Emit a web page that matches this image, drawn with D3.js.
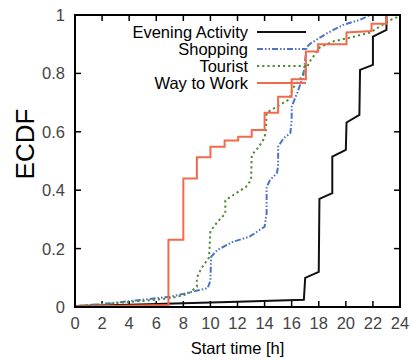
<!DOCTYPE html>
<html>
<head>
<meta charset="utf-8">
<script src="https://cdn.jsdelivr.net/npm/d3@7"></script>
<style>
  body { margin: 0; background: #fff; }
  svg { font-family: "Liberation Sans", Arial, sans-serif; }
  .frame { fill: none; stroke: #000; stroke-width: 2; }
  .tick { stroke: #000; stroke-width: 1.5; }
  .ticklabel { fill: #444; font-size: 16.5px; }
</style>
</head>
<body>
<svg id="chart"></svg>
<script>
// x ticks (hours) and y ticks (ECDF)
const xTicks = [0, 2, 4, 6, 8, 10, 12, 14, 16, 18, 20, 22, 24];
const yTicks = [0, 0.2, 0.4, 0.6, 0.8, 1];

const seriesNames = ["Evening Activity", "Shopping", "Tourist", "Way to Work"];

// [hour, ecdf]
const evening = [[0,0.003],[4,0.008],[8,0.013],[12,0.018],[16.9,0.025],[17.0,0.10],[18.0,0.12],[18.05,0.37],
  [19.0,0.39],[19.0,0.515],[20.0,0.538],[20.05,0.632],[21.0,0.658],[21.05,0.812],[22.0,0.829],[22.0,0.926],
  [23.0,0.949],[23.0,1.0],[24,1.0]];

const shopping = [[0,0.003],[2,0.01],[4,0.02],[6,0.03],[7,0.035],[8,0.045],[9.2,0.058],[9.8,0.065],[10.0,0.09],
  [10.05,0.172],[10.5,0.195],[11.7,0.224],[12.9,0.241],[14.0,0.275],[14.15,0.321],[14.15,0.41],[14.4,0.435],
  [14.9,0.458],[15.0,0.48],[15.0,0.549],[15.4,0.578],[15.9,0.595],[16.0,0.64],[16.0,0.686],[16.4,0.732],
  [16.85,0.789],[17.0,0.846],[17.1,0.89],[17.4,0.903],[18.6,0.937],[19.8,0.966],[21.0,0.983],[21.8,1.0],[24,1.0]];

const tourist = [[0,0.003],[2,0.01],[4,0.017],[6,0.025],[7,0.03],[8,0.04],[8.5,0.05],[9,0.07],[9,0.10],
  [9.3,0.13],[9.9,0.17],[10,0.26],[10.5,0.29],[11.1,0.32],[11.1,0.365],[11.9,0.39],[12.6,0.41],[13.0,0.435],
  [13.05,0.52],[13.6,0.55],[14.0,0.58],[14.1,0.61],[14.15,0.665],[14.5,0.675],[15.4,0.70],[15.8,0.71],
  [16.1,0.75],[16.6,0.78],[17.0,0.81],[17.4,0.845],[18.1,0.89],[19.1,0.91],[20.1,0.92],[21.8,0.94],
  [22.5,0.96],[23.3,0.983],[23.8,0.993],[24,1.0]];

const work = [[0,0.002],[6.9,0.007],[6.9,0.23],[8.0,0.23],[8.0,0.44],[9.0,0.44],[9.0,0.513],[10.0,0.513],
  [10.0,0.549],[11.05,0.549],[11.05,0.57],[12.05,0.57],[12.05,0.583],[13.05,0.583],[13.05,0.606],[14.0,0.606],
  [14.0,0.665],[15.0,0.665],[15.0,0.72],[16.0,0.72],[16.0,0.78],[17.05,0.78],[17.05,0.875],[17.95,0.875],
  [17.95,0.90],[20.05,0.90],[20.05,0.94],[21.9,0.945],[21.9,0.97],[23.0,0.97],[23.0,1.0],[24,1.0]];

const W = 411, H = 360;
const m = {left: 75, right: 11, top: 15, bottom: 53};

let svg = d3.select("#chart").attr("width", W).attr("height", H);

let x = d3.scaleLinear().domain([0, 24]).range([m.left, W - m.right]);
let y = d3.scaleLinear().domain([0, 1]).range([H - m.bottom, m.top]);

let line = d3.line().x(d => x(d[0])).y(d => y(d[1]));

// series styles
const styles = [
  {data: evening,  color: "#111",    dash: null},
  {data: shopping, color: "#4d72c6", dash: "6,2,1.5,2,1.5,2"},
  {data: tourist,  color: "#4f8a35", dash: "2.2,3"},
  {data: work,     color: "#f26a4b", dash: null}
];

// ticks on all four sides, pointing inward
const tl = 6;
xTicks.forEach(t => {
  svg.append("line").attr("class", "tick")
    .attr("x1", x(t)).attr("x2", x(t)).attr("y1", y(0)).attr("y2", y(0) - tl);
  svg.append("line").attr("class", "tick")
    .attr("x1", x(t)).attr("x2", x(t)).attr("y1", y(1)).attr("y2", y(1) + tl);
  svg.append("text").attr("class", "ticklabel")
    .attr("x", x(t)).attr("y", y(0) + 22)
    .attr("text-anchor", "middle").text(t);
});
yTicks.forEach(t => {
  svg.append("line").attr("class", "tick")
    .attr("x1", x(0)).attr("x2", x(0) + tl).attr("y1", y(t)).attr("y2", y(t));
  svg.append("line").attr("class", "tick")
    .attr("x1", x(24)).attr("x2", x(24) - tl).attr("y1", y(t)).attr("y2", y(t));
  svg.append("text").attr("class", "ticklabel")
    .attr("x", x(0) - 10).attr("y", y(t)).attr("dy", "0.36em")
    .attr("text-anchor", "end").text(t);
});

// series lines
styles.forEach(s => {
  svg.append("path").datum(s.data)
    .attr("fill", "none")
    .attr("stroke", s.color)
    .attr("stroke-width", 2)
    .attr("stroke-dasharray", s.dash)
    .attr("d", line);
});

// legend, top-left inside the plot
styles.forEach((s, i) => {
  let ly = 32 + i * 17;
  svg.append("text")
    .attr("x", 248).attr("y", ly).attr("dy", "0.36em")
    .attr("text-anchor", "end")
    .style("font-size", "16.5px")
    .text(seriesNames[i]);
  svg.append("line")
    .attr("x1", 257).attr("x2", 306).attr("y1", ly).attr("y2", ly)
    .attr("stroke", s.color).attr("stroke-width", 2)
    .attr("stroke-dasharray", s.dash);
});

svg.append("rect").attr("class", "frame")
  .attr("x", x(0)).attr("y", y(1))
  .attr("width", x(24) - x(0)).attr("height", y(0) - y(1));

// axis titles
svg.append("text")
  .attr("x", (x(0) + x(24)) / 2).attr("y", 348).attr("dy", "0.36em")
  .attr("text-anchor", "middle").style("font-size", "16.5px")
  .text("Start time [h]");

svg.append("text")
  .attr("transform", "translate(25,144) rotate(-90)")
  .attr("dy", "0.36em")
  .attr("text-anchor", "middle").style("font-size", "26px")
  .text("ECDF");
</script>
</body>
</html>
